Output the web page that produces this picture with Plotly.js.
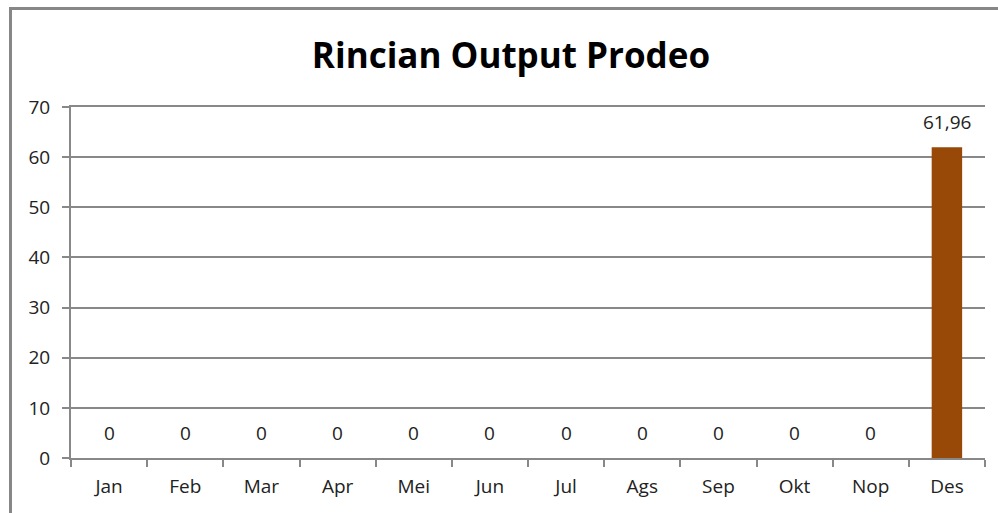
<!DOCTYPE html>
<html>
<head>
<meta charset="utf-8">
<script src="https://cdn.plot.ly/plotly-3.0.1.min.js"></script>
<style>
html,body{margin:0;padding:0;background:#fff;overflow:hidden;}
#chart{position:absolute;left:0;top:0;width:998px;height:513px;}
#frame{position:absolute;left:9px;top:7px;width:2000px;height:2000px;border-left:3px solid #878787;border-top:3px solid #878787;pointer-events:none;}
</style>
</head>
<body>
<div id="chart"></div>
<div id="frame"></div>
<script>
const months = ['Jan','Feb','Mar','Apr','Mei','Jun','Jul','Ags','Sep','Okt','Nop','Des'];
const values = [0,0,0,0,0,0,0,0,0,0,0,61.96];
const yTicks = [0,10,20,30,40,50,60,70];
const titleText = 'Rincian Output Prodeo';
const barColor = '#984807';

const fontFam = '"Open Sans", "Liberation Sans", sans-serif';
const labels = values.map(v => String(v).replace('.', ','));

const trace = {
  type: 'bar',
  x: months,
  y: values,
  marker: {color: barColor},
  hoverinfo: 'none'
};

const annotations = months.map((m, i) => ({
  x: m, y: values[i], xref: 'x', yref: 'y',
  text: labels[i], showarrow: false,
  yanchor: 'bottom', yshift: 10,
  font: {family: fontFam, size: 19, color: '#222'}
}));

const layout = {
  width: 998, height: 513,
  margin: {l: 71, r: 13, t: 107, b: 55},
  paper_bgcolor: '#fff', plot_bgcolor: '#fff',
  title: {text: '<b>' + titleText + '</b>', x: 0.512, xanchor: 'center', y: 0.892, yanchor: 'middle',
          font: {family: fontFam, size: 35, color: '#000'}},
  bargap: 0.6,
  showlegend: false,
  xaxis: {
    type: 'category', categoryorder: 'array', categoryarray: months,
    showline: true, mirror: true, linecolor: '#888', linewidth: 2,
    ticks: 'outside', tickson: 'boundaries', ticklen: 7, tickcolor: '#888', tickwidth: 2,
    tickfont: {family: fontFam, size: 19, color: '#222'},
    ticklabelstandoff: 10,
    showgrid: false, zeroline: false, fixedrange: true
  },
  yaxis: {
    range: [0, 70], tickvals: yTicks, ticktext: yTicks.map(String),
    showline: true, linecolor: '#888', linewidth: 2,
    ticks: 'outside', ticklen: 7, tickcolor: '#888', tickwidth: 2,
    tickfont: {family: fontFam, size: 19, color: '#222'},
    ticklabelstandoff: 8,
    showgrid: true, gridcolor: '#888', gridwidth: 2,
    zeroline: false, fixedrange: true
  },
  annotations: annotations
};

Plotly.newPlot('chart', [trace], layout, {displayModeBar: false, staticPlot: true});
</script>
</body>
</html>
